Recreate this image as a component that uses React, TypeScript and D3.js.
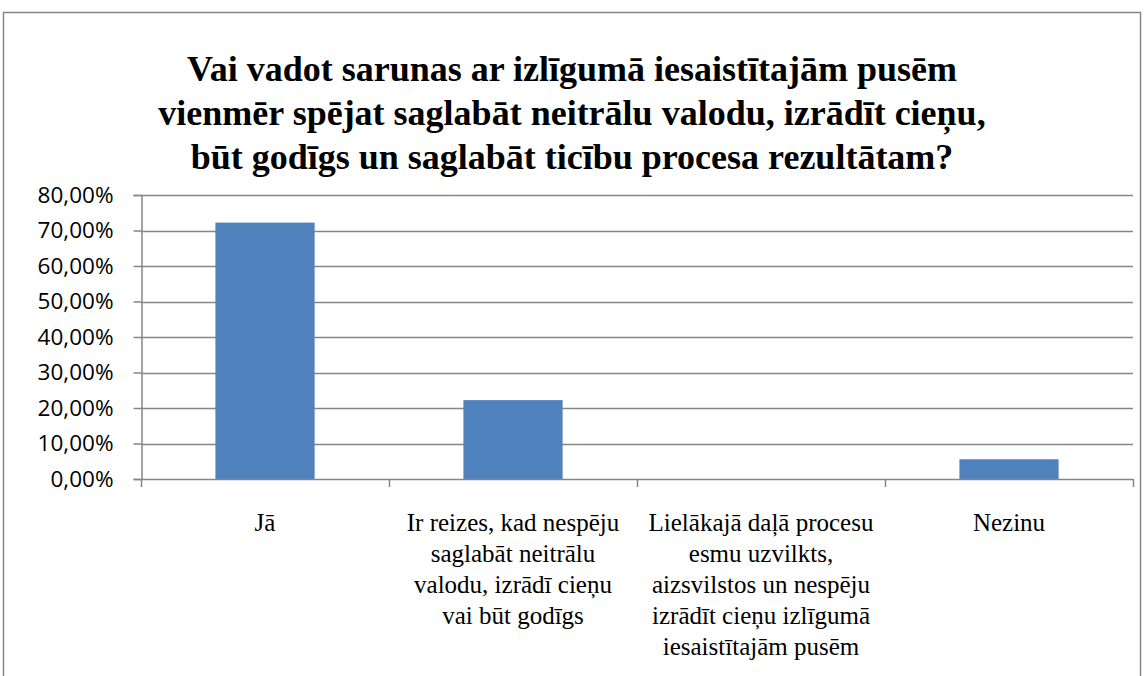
import React, { useEffect, useRef } from 'react';
import * as d3 from 'd3';

const categories = [
  ['Jā'],
  ['Ir reizes, kad nespēju', 'saglabāt neitrālu', 'valodu, izrādī cieņu', 'vai būt godīgs'],
  ['Lielākajā daļā procesu', 'esmu uzvilkts,', 'aizsvilstos un nespēju', 'izrādīt cieņu izlīgumā', 'iesaistītajām pusēm'],
  ['Nezinu'],
];
const values = [0.7222, 0.2222, 0, 0.0556];
const yTicks = [0, 0.1, 0.2, 0.3, 0.4, 0.5, 0.6, 0.7, 0.8];
const titleLines = [
  'Vai vadot sarunas ar izlīgumā iesaistītajām pusēm',
  'vienmēr spējat saglabāt neitrālu valodu, izrādīt cieņu,',
  'būt godīgs un saglabāt ticību procesa rezultātam?',
];

const W = 1145;
const H = 676;
const SERIF = "'Liberation Serif', 'Times New Roman', serif";

function App() {
  const ref = useRef<SVGSVGElement | null>(null);

  useEffect(() => {
    if (!ref.current) return;
    const svg = d3.select(ref.current);
    svg.selectAll('*').remove();

    const left = 141, right = 1133, top = 195, bottom = 479;
    const grey = '#868686';

    // chart border
    svg.append('rect')
      .attr('x', 3.5).attr('y', 12.5)
      .attr('width', 1137).attr('height', 700)
      .attr('fill', 'white').attr('stroke', grey).attr('stroke-width', 1.5);

    const idx = categories.map((_, i) => String(i));
    const x = d3.scaleBand().domain(idx).range([left, right]).paddingInner(0).paddingOuter(0);
    const y = d3.scaleLinear().domain([0, 0.8]).range([bottom, top]);

    // gridlines
    svg.append('g').selectAll('line')
      .data(yTicks.slice(1))
      .enter().append('line')
      .attr('x1', left).attr('x2', right)
      .attr('y1', d => Math.round(y(d)) + 0.5).attr('y2', d => Math.round(y(d)) + 0.5)
      .attr('stroke', grey).attr('stroke-width', 1.5);

    // bars
    const bw = x.bandwidth() * 0.4;
    svg.append('g').selectAll('rect')
      .data(values)
      .enter().append('rect')
      .attr('x', (d, i) => (x(String(i)) as number) + (x.bandwidth() - bw) / 2)
      .attr('y', d => y(d))
      .attr('width', bw)
      .attr('height', d => bottom - y(d))
      .attr('fill', '#4F81BD');

    // y axis
    const yAxis = d3.axisLeft(y).tickValues(yTicks).tickSize(8).tickPadding(20)
      .tickFormat(d => d3.format('.2f')((d as number) * 100).replace('.', ',') + '%');
    const ga = svg.append('g').attr('transform', `translate(${left + 0.5},0)`).call(yAxis);
    ga.selectAll('line').attr('stroke', grey).attr('stroke-width', 1.5);
    ga.select('.domain').attr('stroke', grey).attr('stroke-width', 1.5);
    ga.selectAll('text')
      .attr('fill', '#000')
      .attr('font-family', "'Open Sans', sans-serif")
      .attr('font-size', 22.5);

    // x axis line + ticks between categories
    const gx = svg.append('g');
    gx.append('line')
      .attr('x1', left).attr('x2', right)
      .attr('y1', bottom + 0.5).attr('y2', bottom + 0.5)
      .attr('stroke', grey).attr('stroke-width', 1.5);
    const bounds = idx.map(i => x(i) as number).concat([right]);
    gx.selectAll('line.tk')
      .data(bounds)
      .enter().append('line')
      .attr('class', 'tk')
      .attr('x1', d => d + 0.5).attr('x2', d => d + 0.5)
      .attr('y1', bottom).attr('y2', bottom + 8)
      .attr('stroke', grey).attr('stroke-width', 1.5);

    // category labels
    categories.forEach((lines, i) => {
      const cx = (x(String(i)) as number) + x.bandwidth() / 2;
      const t = svg.append('text')
        .attr('text-anchor', 'middle')
        .style('font-family', SERIF)
        .attr('font-size', 25)
        .attr('fill', '#000');
      lines.forEach((l, k) => {
        t.append('tspan').attr('x', cx).attr('y', 531 + k * 31).text(l);
      });
    });

    // title
    const tt = svg.append('text')
      .attr('text-anchor', 'middle')
      .style('font-family', SERIF)
      .attr('font-weight', 'bold')
      .attr('font-size', 36)
      .attr('fill', '#000');
    titleLines.forEach((l, k) => {
      tt.append('tspan').attr('x', 572).attr('y', 81 + k * 44).text(l);
    });
  }, []);

  return (
    <svg ref={ref} width={W} height={H}
      style={{ position: 'absolute', left: 0, top: 0, background: 'white' }} />
  );
}

export default App;
